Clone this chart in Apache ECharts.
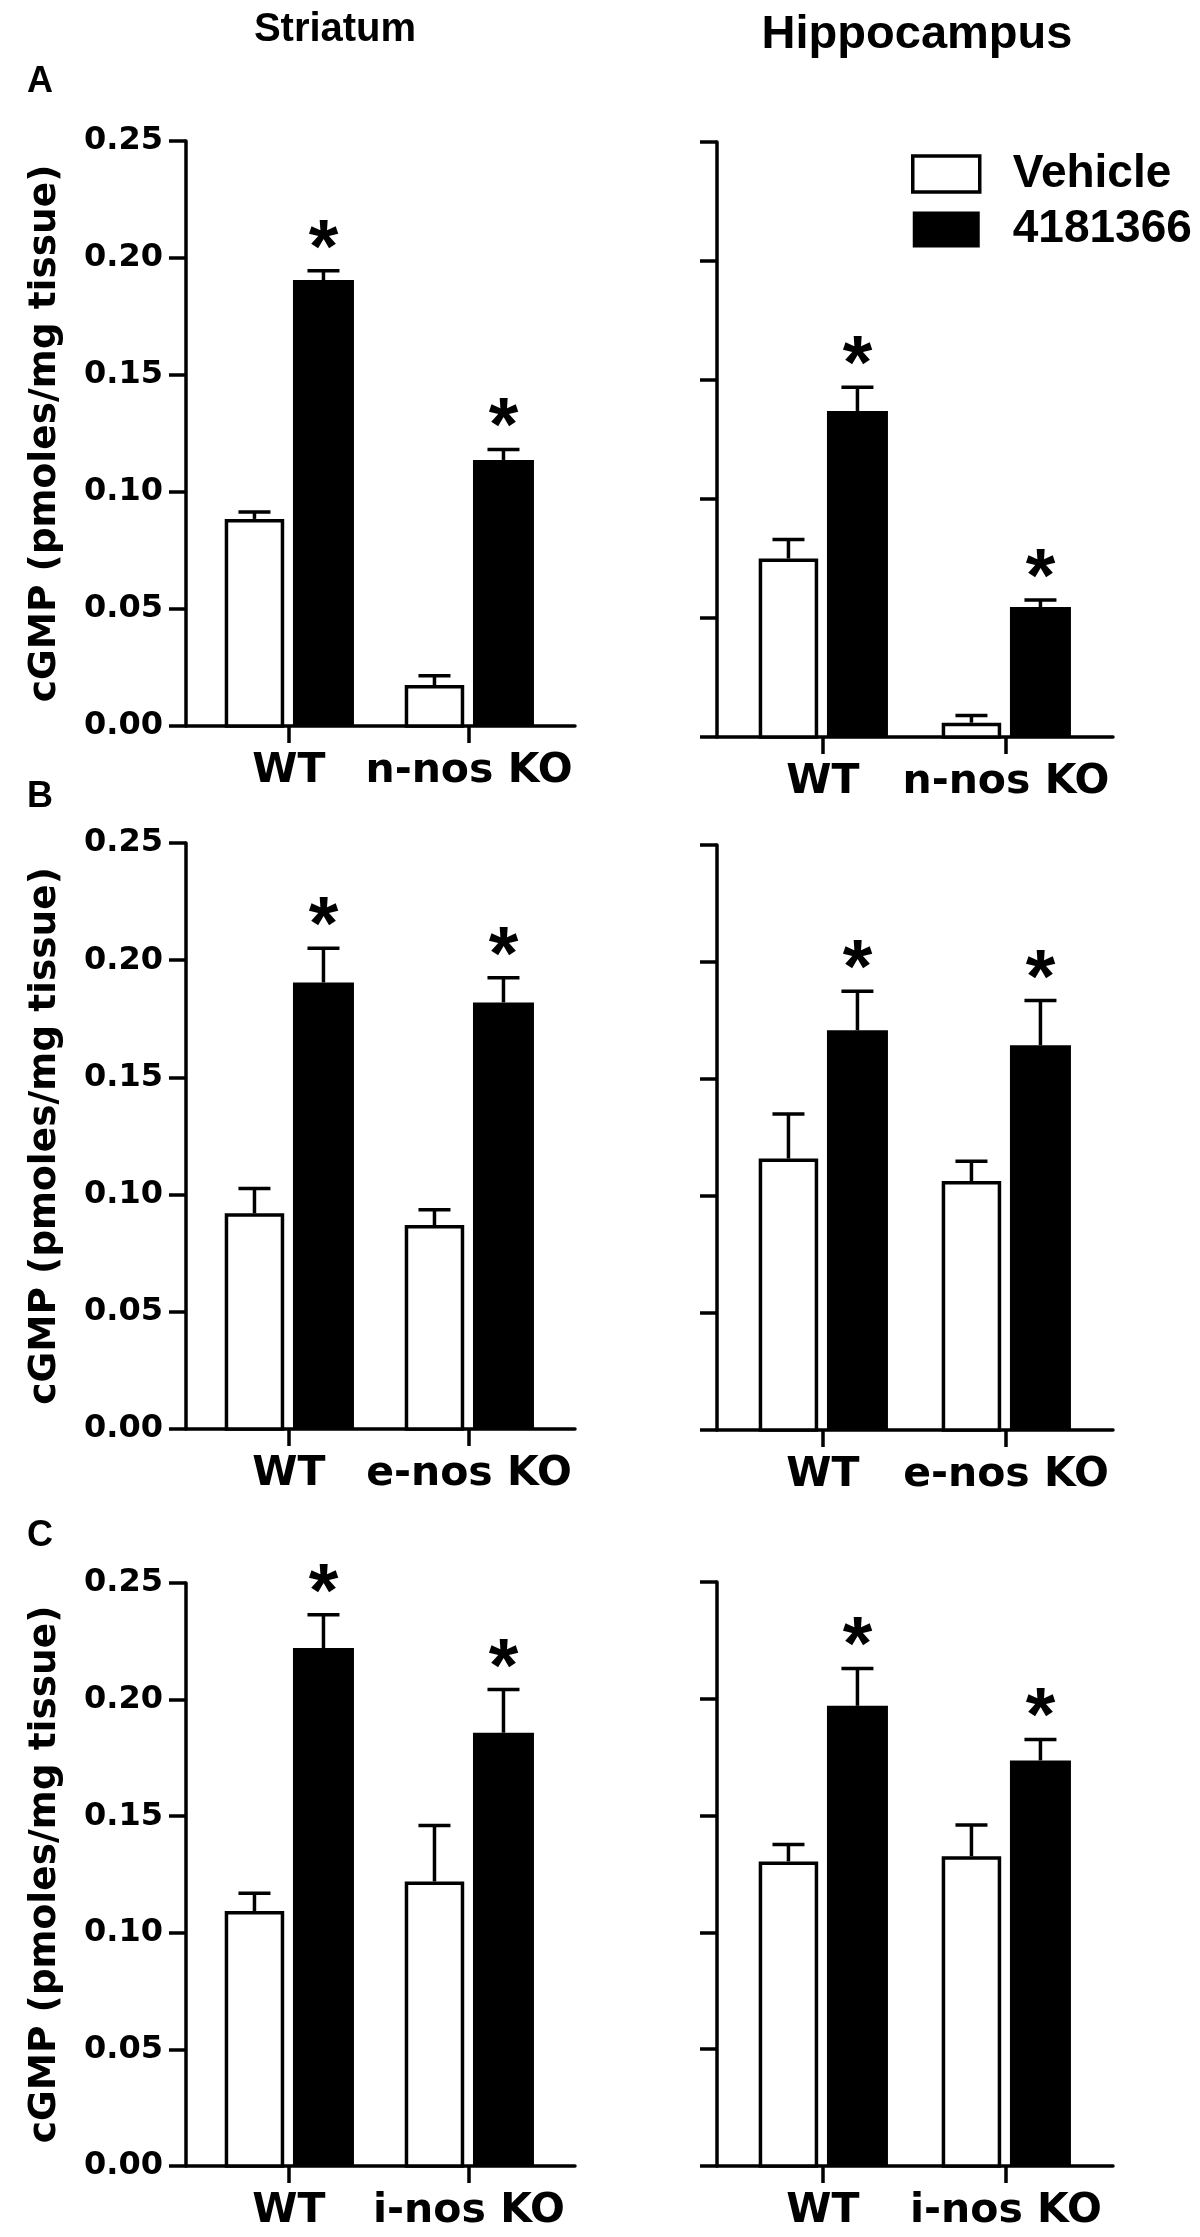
<!DOCTYPE html>
<html>
<head>
<meta charset="utf-8">
<script src="https://cdn.jsdelivr.net/npm/echarts@6.0.0/dist/echarts.min.js"></script>
<style>
  html, body { margin: 0; padding: 0; background: #fff; }
  #chart { width: 1200px; height: 2237px; }
</style>
</head>
<body>
<div id="chart"></div>
<script>
// group labels on the x axes
var groupsA = ['WT', 'n-nos KO'];
var groupsB = ['WT', 'e-nos KO'];
var groupsC = ['WT', 'i-nos KO'];

// cGMP means and SEM (pmoles/mg tissue)
var striatumA_vehicle = [0.0885, 0.0175];
var striatumA_vehicleSem = [0.003, 0.004];
var striatumA_drug = [0.1906, 0.1137];
var striatumA_drugSem = [0.004, 0.0045];

var hippoA_vehicle = [0.075, 0.006];
var hippoA_vehicleSem = [0.008, 0.003];
var hippoA_drug = [0.137, 0.0546];
var hippoA_drugSem = [0.010, 0.003];

var striatumB_vehicle = [0.092, 0.087];
var striatumB_vehicleSem = [0.0106, 0.0065];
var striatumB_drug = [0.1905, 0.182];
var striatumB_drugSem = [0.0146, 0.0105];

var hippoB_vehicle = [0.116, 0.1064];
var hippoB_vehicleSem = [0.019, 0.0084];
var hippoB_drug = [0.1708, 0.1644];
var hippoB_drugSem = [0.0167, 0.0191];

var striatumC_vehicle = [0.1093, 0.122];
var striatumC_vehicleSem = [0.0077, 0.024];
var striatumC_drug = [0.2221, 0.1858];
var striatumC_drugSem = [0.0143, 0.0185];

var hippoC_vehicle = [0.1304, 0.1326];
var hippoC_vehicleSem = [0.0072, 0.0134];
var hippoC_drug = [0.197, 0.1736];
var hippoC_drugSem = [0.016, 0.009];

var yTicks = [0, 0.05, 0.10, 0.15, 0.20, 0.25];

var FONT = '"Liberation Sans", Arial, Helvetica, sans-serif';
var FONT_WIDE = '"DejaVu Sans", Verdana, sans-serif';
var LINE_W = 3.5;

var panels = [
  {groups: groupsA, veh: striatumA_vehicle, vehSem: striatumA_vehicleSem, drug: striatumA_drug, drugSem: striatumA_drugSem,
   left: true, grid: {left: 186, top: 141, width: 389, height: 585}},
  {groups: groupsA, veh: hippoA_vehicle, vehSem: hippoA_vehicleSem, drug: hippoA_drug, drugSem: hippoA_drugSem,
   left: false, grid: {left: 717, top: 142, width: 396, height: 595}},
  {groups: groupsB, veh: striatumB_vehicle, vehSem: striatumB_vehicleSem, drug: striatumB_drug, drugSem: striatumB_drugSem,
   left: true, grid: {left: 186, top: 843, width: 389, height: 586}},
  {groups: groupsB, veh: hippoB_vehicle, vehSem: hippoB_vehicleSem, drug: hippoB_drug, drugSem: hippoB_drugSem,
   left: false, grid: {left: 717, top: 845, width: 396, height: 585}},
  {groups: groupsC, veh: striatumC_vehicle, vehSem: striatumC_vehicleSem, drug: striatumC_drug, drugSem: striatumC_drugSem,
   left: true, grid: {left: 186, top: 1583, width: 389, height: 583}},
  {groups: groupsC, veh: hippoC_vehicle, vehSem: hippoC_vehicleSem, drug: hippoC_drug, drugSem: hippoC_drugSem,
   left: false, grid: {left: 717, top: 1582, width: 396, height: 584}}
];

// bar + error bar (+ star over treated bars), all placed through the axes
function barRenderer(kind){
  return function(params, api){
    var x = api.value(0), mean = api.value(1), sem = api.value(2);
    var base = api.coord([x, 0]);
    var top = api.coord([x, mean]);
    var cap = api.coord([x, mean + sem]);
    var cx = base[0] + (kind == 'vehicle' ? -34.5 : 34.5);
    var children = [];
    if(kind == 'vehicle'){
      children.push({type: 'rect', shape: {x: cx - 28, y: top[1] + LINE_W / 2, width: 56, height: base[1] - top[1] - LINE_W / 2},
        style: {fill: '#fff', stroke: '#000', lineWidth: LINE_W}});
    }else{
      children.push({type: 'rect', shape: {x: cx - 30.5, y: top[1], width: 61, height: base[1] - top[1]},
        style: {fill: '#000'}});
    }
    children.push({type: 'line', shape: {x1: cx, y1: top[1], x2: cx, y2: cap[1]},
      style: {stroke: '#000', lineWidth: LINE_W}});
    children.push({type: 'line', shape: {x1: cx - 16, y1: cap[1], x2: cx + 16, y2: cap[1]},
      style: {stroke: '#000', lineWidth: LINE_W}});
    if(kind == 'drug'){
      children.push({type: 'text', x: cx, y: cap[1] - 20,
        style: {text: '*', fill: '#000', font: 'bold 76px ' + FONT, textAlign: 'center', textVerticalAlign: 'middle'}});
    }
    return {type: 'group', children: children};
  };
}

var grids = [], xAxes = [], yAxes = [], series = [];
panels.forEach(function(p, i){
  grids.push({left: p.grid.left, top: p.grid.top, width: p.grid.width, height: p.grid.height, containLabel: false, outerBoundsMode: 'none'});
  var cats = p.groups;
  xAxes.push({
    gridIndex: i, type: 'value', min: p.left ? -0.572 : -0.579, max: p.left ? 1.589 : 1.585,
    axisLine: {show: true, onZero: false, lineStyle: {color: '#000', width: LINE_W}},
    axisTick: {show: true, customValues: [0, 1], length: 17, lineStyle: {color: '#000', width: LINE_W}},
    axisLabel: {show: true, customValues: [0, 1], margin: 25, color: '#000', fontSize: 41, fontWeight: 'bold', fontFamily: FONT_WIDE,
      formatter: function(v){ return cats[Math.round(v)]; }},
    splitLine: {show: false}
  });
  yAxes.push({
    gridIndex: i, type: 'value', min: yTicks[0], max: yTicks[yTicks.length - 1], interval: 0.05,
    axisLine: {show: true, onZero: false, lineStyle: {color: '#000', width: LINE_W}},
    axisTick: {show: true, length: 17, lineStyle: {color: '#000', width: LINE_W}},
    axisLabel: {show: p.left, margin: 23, color: '#000', fontSize: 32, fontWeight: 'bold', fontFamily: FONT_WIDE,
      formatter: function(v){ return v.toFixed(2); }},
    splitLine: {show: false},
    name: p.left ? 'cGMP (pmoles/mg tissue)' : '',
    nameLocation: 'middle', nameGap: 122,
    nameTextStyle: {color: '#000', fontSize: 37.5, fontWeight: 'bold', fontFamily: FONT_WIDE}
  });
  series.push({
    name: 'Vehicle', type: 'custom', xAxisIndex: i, yAxisIndex: i,
    itemStyle: {color: '#fff', borderColor: '#000', borderWidth: LINE_W},
    renderItem: barRenderer('vehicle'),
    encode: {x: 0, y: 1},
    data: p.veh.map(function(v, k){ return [k, v, p.vehSem[k]]; })
  });
  series.push({
    name: '4181366', type: 'custom', xAxisIndex: i, yAxisIndex: i,
    itemStyle: {color: '#000'},
    renderItem: barRenderer('drug'),
    encode: {x: 0, y: 1},
    data: p.drug.map(function(v, k){ return [k, v, p.drugSem[k]]; })
  });
});

var titleStyle = function(size){ return {color: '#000', fontSize: size, fontWeight: 'bold', fontFamily: FONT}; };

var option = {
  backgroundColor: '#fff',
  animation: false,
  title: [
    {text: 'Striatum', left: 330, top: 5, textAlign: 'center', textStyle: titleStyle(40)},
    {text: 'Hippocampus', left: 912, top: 7, textAlign: 'center', textStyle: titleStyle(47)},
    {text: 'A', left: 22, top: 59, textStyle: titleStyle(36)},
    {text: 'B', left: 22, top: 774, textStyle: titleStyle(36)},
    {text: 'C', left: 22, top: 1513, textStyle: titleStyle(36)}
  ],
  legend: {
    left: 906, top: 146, orient: 'vertical', itemWidth: 67, itemHeight: 36, itemGap: 9.5,
    selectedMode: false,
    textStyle: {color: '#000', fontSize: 46, fontWeight: 'bold', fontFamily: FONT, padding: [0, 0, 0, 28]},
    data: [
      {name: 'Vehicle', icon: 'rect', itemStyle: {color: '#fff', borderColor: '#000', borderWidth: LINE_W}},
      {name: '4181366', icon: 'rect', itemStyle: {color: '#000', borderWidth: 0}}
    ]
  },
  grid: grids,
  xAxis: xAxes,
  yAxis: yAxes,
  series: series
};

var chart = echarts.init(document.getElementById('chart'), null, {renderer: 'canvas'});
chart.setOption(option);
</script>
</body>
</html>
